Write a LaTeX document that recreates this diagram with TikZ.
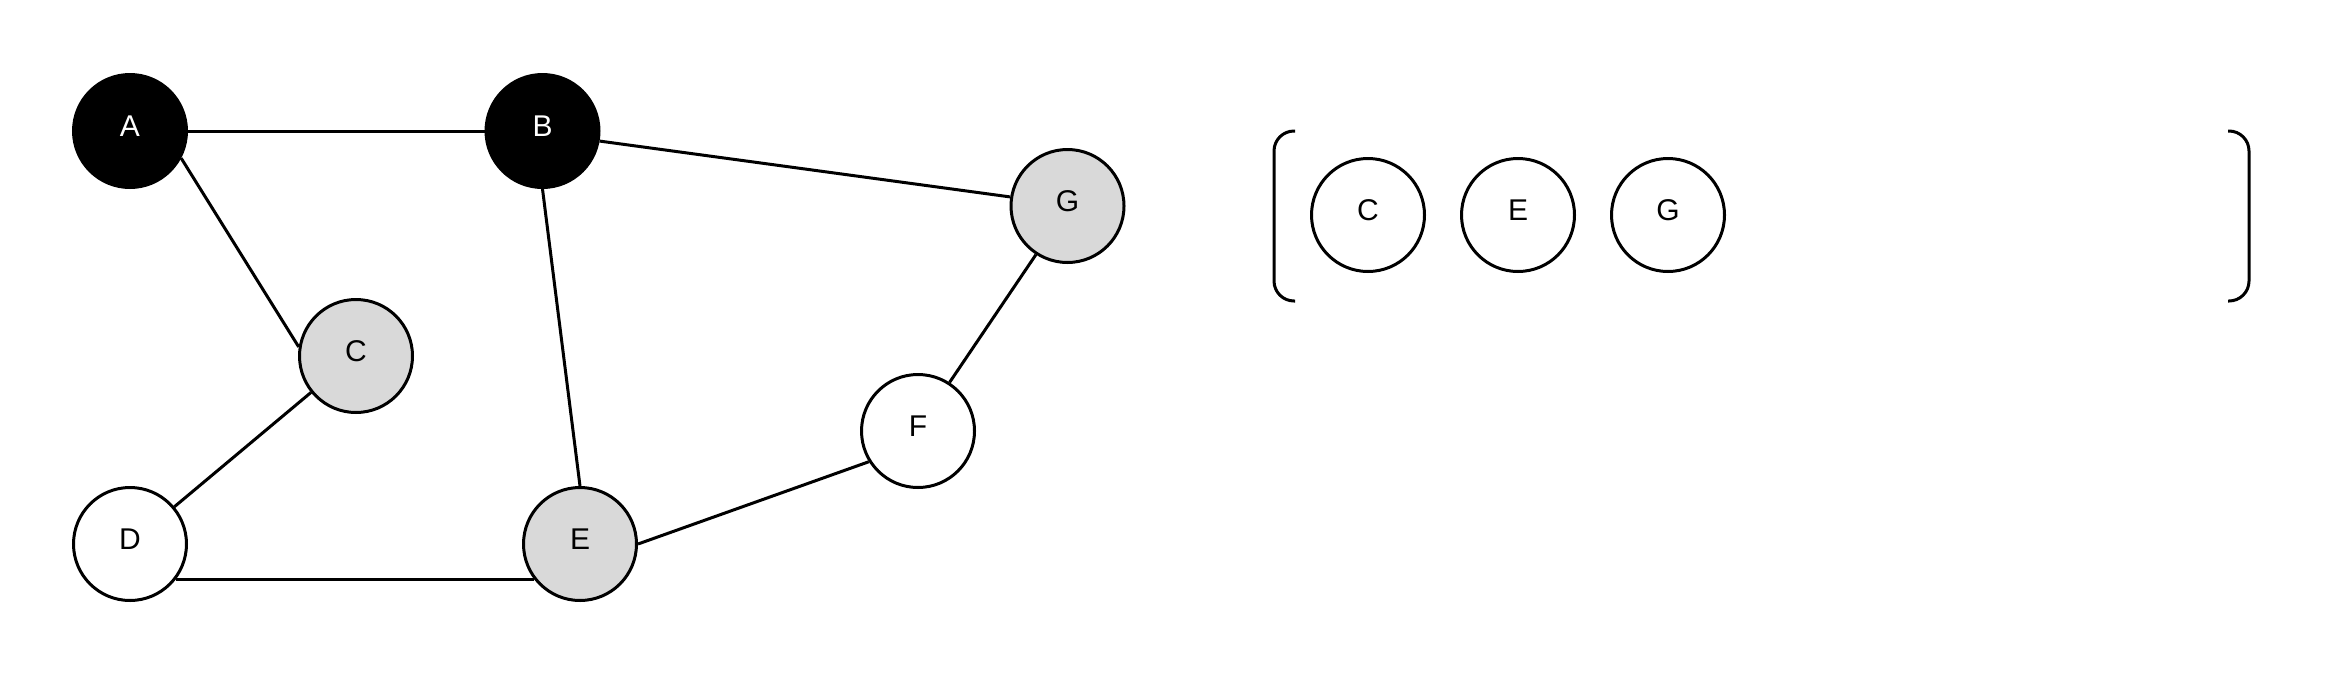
\documentclass[tikz,border=0pt]{standalone}
\usepackage{fontspec}
\setmainfont{Liberation Sans}
\definecolor{visgray}{HTML}{D9D9D9}
\tikzset{
  vnode/.style={circle, draw=black, line width=3pt, minimum size=113pt, inner sep=0pt,
    font=\fontsize{30}{30}\selectfont, text height=22pt, text depth=12pt},
  donenode/.style={vnode, fill=black, text=white},
  seennode/.style={vnode, fill=visgray},
  freshnode/.style={vnode, fill=white},
  edge/.style={line width=3pt},
  bracket/.style={line width=3pt, rounded corners=20pt}
}
\begin{document}
\begin{tikzpicture}[x=1pt,y=-1pt]
\useasboundingbox (0,0) rectangle (2325,675);
% graph nodes
\node[donenode]  (A) at (130,131) {A};
\node[donenode]  (B) at (542.5,131) {B};
\node[seennode]  (C) at (356,356) {C};
\node[freshnode] (D) at (130,544) {D};
\node[seennode]  (E) at (580,544) {E};
\node[freshnode] (F) at (918,431) {F};
\node[seennode]  (G) at (1067.5,206) {G};
% edges
\draw[edge] (A.east) -- (B.west);
\draw[edge] (A.-28) -- (C.171);
\draw[edge] (B.-10) -- (G.171);
\draw[edge] (B.south) -- (E.north);
\draw[edge] (C.219) -- (D.40);
\draw[edge] (D.-38) -- (E.218);
\draw[edge] (E.east) -- (F.212);
\draw[edge] (F.57) -- (G.237);
% queue
\node[freshnode] (qC) at (1368,215) {C};
\node[freshnode] (qE) at (1518,215) {E};
\node[freshnode] (qG) at (1668,215) {G};
\draw[bracket] (1295,131) -- (1274,131) -- (1274,301) -- (1295,301);
\draw[bracket] (2228,131) -- (2249,131) -- (2249,301) -- (2228,301);
\end{tikzpicture}
\end{document}
